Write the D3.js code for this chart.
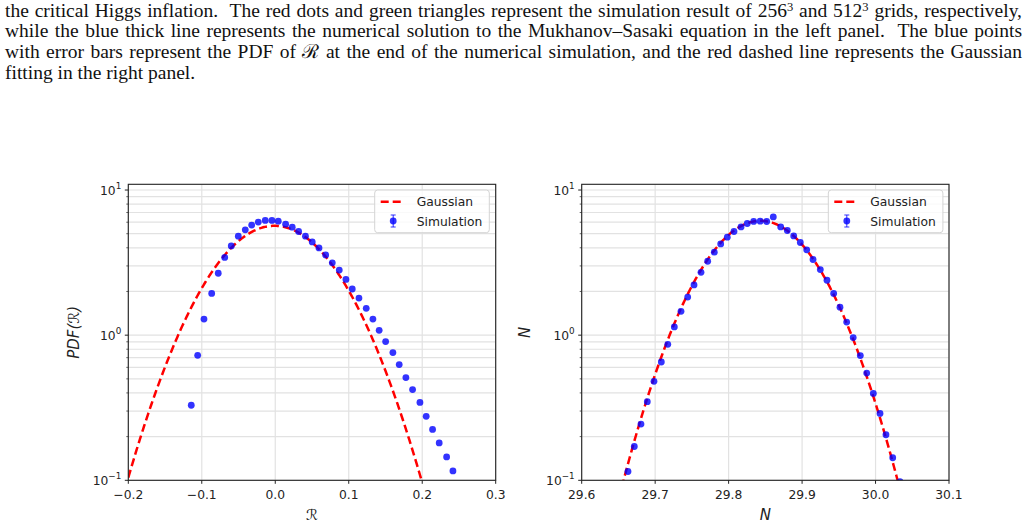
<!DOCTYPE html>
<html lang="en">
<head>
<meta charset="utf-8">
<title>PDF of R</title>
<script src="https://cdn.jsdelivr.net/npm/d3@7"></script>
<style>
  body { margin: 0; background: #fff; }
  .tick-label { font-family: "DejaVu Sans", sans-serif; font-size: 12.3px; fill: #222; }
  .caption { font-family: "Liberation Serif", "DejaVu Serif", serif; font-size: 19.5px; fill: #111; }
</style>
</head>
<body>
<div id="chart"></div>
<script>

// ---- data ----

// left panel: PDF of R
var leftX = [-0.1143, -0.1056, -0.0970, -0.0865, -0.0776, -0.0688, -0.0599, -0.0503, -0.0408, -0.0321,
             -0.0231, -0.0136, -0.0045, 0.0041, 0.0141, 0.0231, 0.0318, 0.0411, 0.0503, 0.0595,
             0.0686, 0.0776, 0.0871, 0.0962, 0.1048, 0.1139, 0.1238, 0.1329, 0.1414, 0.1502,
             0.1601, 0.1687, 0.1778, 0.1869, 0.1969, 0.2054, 0.2141, 0.2231, 0.2332, 0.2418];
var leftY = [0.329, 0.726, 1.29, 1.94, 2.67, 3.43, 4.12, 4.81, 5.32, 5.73,
             6.01, 6.17, 6.17, 6.10, 5.82, 5.55, 5.18, 4.81, 4.39, 3.99,
             3.57, 3.15, 2.81, 2.42, 2.08, 1.80, 1.53, 1.29, 1.08, 0.903,
             0.759, 0.627, 0.510, 0.422, 0.344, 0.276, 0.224, 0.181, 0.145, 0.116];
var leftFit = [-0.001, 0.0704];   // gaussian mean, sigma

// right panel: PDF of N
var rightX = [29.6630, 29.6716, 29.6807, 29.6893, 29.6984, 29.7084, 29.7172, 29.7261, 29.7352, 29.7443,
              29.7529, 29.7624, 29.7715, 29.7805, 29.7892, 29.7982, 29.8073, 29.8169, 29.8254, 29.8341,
              29.8430, 29.8518, 29.8608, 29.8709, 29.8799, 29.8886, 29.8976, 29.9063, 29.9149, 29.9248,
              29.9339, 29.9430, 29.9516, 29.9607, 29.9696, 29.9793, 29.9880, 29.9970, 30.0061, 30.0142,
              30.0234, 30.0333];
var rightY = [0.115, 0.171, 0.244, 0.348, 0.481, 0.653, 0.865, 1.14, 1.46, 1.83,
              2.22, 2.71, 3.23, 3.73, 4.25, 4.73, 5.18, 5.57, 5.88, 6.08,
              6.10, 6.07, 6.53, 5.57, 5.26, 4.83, 4.35, 3.87, 3.32, 2.83,
              2.39, 1.94, 1.56, 1.23, 0.962, 0.723, 0.548, 0.397, 0.289, 0.206,
              0.143, 0.098];
var rightFit = [29.8435, 0.065];

// ticks
var leftXTicks = [-0.2, -0.1, 0.0, 0.1, 0.2, 0.3];
var leftXLabels = ["\u22120.2", "\u22120.1", "0.0", "0.1", "0.2", "0.3"];
var rightXTicks = [29.6, 29.7, 29.8, 29.9, 30.0, 30.1];
var rightXLabels = ["29.6", "29.7", "29.8", "29.9", "30.0", "30.1"];
var yTicks = [10, 1, 0.1];
var yExps = ["1", "0", "\u22121"];

var captionLines = [
  ["the critical Higgs inflation.  The red dots and green triangles represent the simulation result of 256", "3", " and 512", "3", " grids, respectively,"],
  ["while the blue thick line represents the numerical solution to the Mukhanov\u2013Sasaki equation in the left panel.  The blue points"],
  ["with error bars represent the PDF of \u211B at the end of the numerical simulation, and the red dashed line represents the Gaussian"],
  ["fitting in the right panel."]
];

// ---- drawing ----

var W = 1028, H = 527;
var svg = d3.select("#chart").append("svg")
    .attr("width", W)
    .attr("height", H);

// caption text above the figure, justified with word spacing
captionLines.forEach(function(parts, i) {
  var t = svg.append("text")
      .attr("class", "caption")
      .attr("x", 5)
      .attr("y", 16.5 + i * 20.7)
      .attr("xml:space", "preserve");
  parts.forEach(function(p, j) {
    var sup = (j % 2 == 1);
    t.append("tspan")
      .attr("font-size", sup ? "12.5px" : null)
      .attr("dy", sup ? -6 : (j > 0 ? 6 : null))
      .text(p);
  });
  if (i < 3) {
    var w = t.node().getComputedTextLength();
    var spaces = parts.join("").split(" ").length - 1;
    t.attr("word-spacing", ((1017 - w) / spaces) + "px");
  }
});

var plotTop = 184.3, plotBottom = 480.3;

function gaussian(fit) {
  return function(v) {
    var z = (v - fit[0]) / fit[1];
    return Math.exp(-0.5 * z * z) / (fit[1] * Math.sqrt(2 * Math.PI));
  };
}

function panel(id, left, right, xDomain, xTicks, xLabels, xs, ys, fit, yLabel, yLabelX, xLabel, legendX) {
  var x = d3.scaleLinear().domain(xDomain).range([left, right]);
  var y = d3.scaleLog().domain([0.1, 10.95]).range([plotBottom, plotTop]);

  svg.append("clipPath").attr("id", id)
    .append("rect")
      .attr("x", left).attr("y", plotTop)
      .attr("width", right - left).attr("height", plotBottom - plotTop);

  var g = svg.append("g");

  // grid: major and minor on y, major on x
  var minor = [];
  [0.1, 1].forEach(function(d) {
    for (var k = 1; k < 10; k++) minor.push(d * k);
  });
  minor.push(10);
  g.selectAll(".hgrid").data(minor).enter().append("line")
      .attr("x1", left).attr("x2", right)
      .attr("y1", function(d) { return y(d); })
      .attr("y2", function(d) { return y(d); })
      .attr("stroke", "#e2e2e2")
      .attr("stroke-width", 1.2);
  g.selectAll(".vgrid").data(xTicks).enter().append("line")
      .attr("x1", function(d) { return x(d); })
      .attr("x2", function(d) { return x(d); })
      .attr("y1", plotTop).attr("y2", plotBottom)
      .attr("stroke", "#e2e2e2")
      .attr("stroke-width", 1.2);

  // gaussian fit, dashed red
  var f = gaussian(fit);
  var xs2 = d3.range(0, 401).map(function(i) { return xDomain[0] + (xDomain[1] - xDomain[0]) * i / 400; });
  var line = d3.line()
      .defined(function(d) { return f(d) > 0.05; })
      .x(function(d) { return x(d); })
      .y(function(d) { return y(f(d)); });
  g.append("path")
      .datum(xs2)
      .attr("clip-path", "url(#" + id + ")")
      .attr("d", line)
      .attr("fill", "none")
      .attr("stroke", "red")
      .attr("stroke-width", 2.5)
      .attr("stroke-dasharray", "8,4");

  // simulation points
  g.append("g").attr("clip-path", "url(#" + id + ")")
    .selectAll("circle")
    .data(d3.zip(xs, ys))
    .enter().append("circle")
      .attr("cx", function(d) { return x(d[0]); })
      .attr("cy", function(d) { return y(d[1]); })
      .attr("r", 3.4)
      .attr("fill", "blue")
      .attr("fill-opacity", 0.8);

  // frame
  g.append("rect")
      .attr("x", left).attr("y", plotTop)
      .attr("width", right - left).attr("height", plotBottom - plotTop)
      .attr("fill", "none")
      .attr("stroke", "#222")
      .attr("stroke-width", 1.1);

  // x ticks
  xTicks.forEach(function(d, i) {
    g.append("line")
      .attr("x1", x(d)).attr("x2", x(d))
      .attr("y1", plotBottom).attr("y2", plotBottom + 3.5)
      .attr("stroke", "#222");
    g.append("text")
      .attr("class", "tick-label")
      .attr("x", x(d)).attr("y", plotBottom + 19)
      .attr("text-anchor", "middle")
      .text(xLabels[i]);
  });

  // y ticks (major and minor)
  minor.forEach(function(d) {
    var isMajor = yTicks.some(function(t) { return Math.abs(t - d) < 1e-9; });
    g.append("line")
      .attr("x1", left).attr("x2", left - (isMajor ? 3.5 : 2))
      .attr("y1", y(d)).attr("y2", y(d))
      .attr("stroke", "#222")
      .attr("stroke-width", isMajor ? 1 : 0.7);
  });
  yTicks.forEach(function(d, i) {
    var t = g.append("text")
      .attr("class", "tick-label")
      .attr("x", left - 7).attr("y", y(d) + 4.5)
      .attr("text-anchor", "end");
    t.append("tspan").text("10");
    t.append("tspan").attr("font-size", "8.8px").attr("dy", -5.5).text(yExps[i]);
  });

  // axis labels
  g.append("text")
    .attr("transform", "translate(" + yLabelX + "," + ((plotTop + plotBottom) / 2) + ") rotate(-90)")
    .attr("text-anchor", "middle")
    .attr("font-family", "DejaVu Sans, sans-serif")
    .attr("font-style", "italic")
    .attr("font-size", "15px")
    .attr("fill", "#222")
    .text(yLabel);
  g.append("text")
    .attr("x", (left + right) / 2).attr("y", 520)
    .attr("text-anchor", "middle")
    .attr("font-family", "DejaVu Sans, sans-serif")
    .attr("font-style", "italic")
    .attr("font-size", "15px")
    .attr("fill", "#222")
    .text(xLabel);

  // legend
  var lg = g.append("g").attr("transform", "translate(" + legendX + "," + 190 + ")");
  lg.append("rect")
    .attr("width", 114.6).attr("height", 42.7)
    .attr("rx", 3)
    .attr("fill", "white").attr("fill-opacity", 0.8)
    .attr("stroke", "#d4d4d4");
  lg.append("line")
    .attr("x1", 6).attr("x2", 30).attr("y1", 11.7).attr("y2", 11.7)
    .attr("stroke", "red").attr("stroke-width", 2.5).attr("stroke-dasharray", "8,4");
  lg.append("line")
    .attr("x1", 18.5).attr("x2", 18.5).attr("y1", 25).attr("y2", 37)
    .attr("stroke", "blue").attr("stroke-opacity", 0.8);
  [25, 37].forEach(function(c) {
    lg.append("line")
      .attr("x1", 16).attr("x2", 21).attr("y1", c).attr("y2", c)
      .attr("stroke", "blue").attr("stroke-opacity", 0.8);
  });
  lg.append("circle")
    .attr("cx", 18.5).attr("cy", 31).attr("r", 3.4)
    .attr("fill", "blue").attr("fill-opacity", 0.8);
  lg.append("text").attr("class", "tick-label")
    .attr("x", 42).attr("y", 16).text("Gaussian");
  lg.append("text").attr("class", "tick-label")
    .attr("x", 42).attr("y", 35.5).text("Simulation");
}

panel("clipL", 128.3, 495.7, [-0.2, 0.3], leftXTicks, leftXLabels, leftX, leftY, leftFit,
      "PDF(\u211B)", 79, "\u211B", 374.7);
panel("clipR", 581.7, 949, [29.6, 30.1], rightXTicks, rightXLabels, rightX, rightY, rightFit,
      "N", 530, "N", 828.3);

</script>
</body>
</html>
